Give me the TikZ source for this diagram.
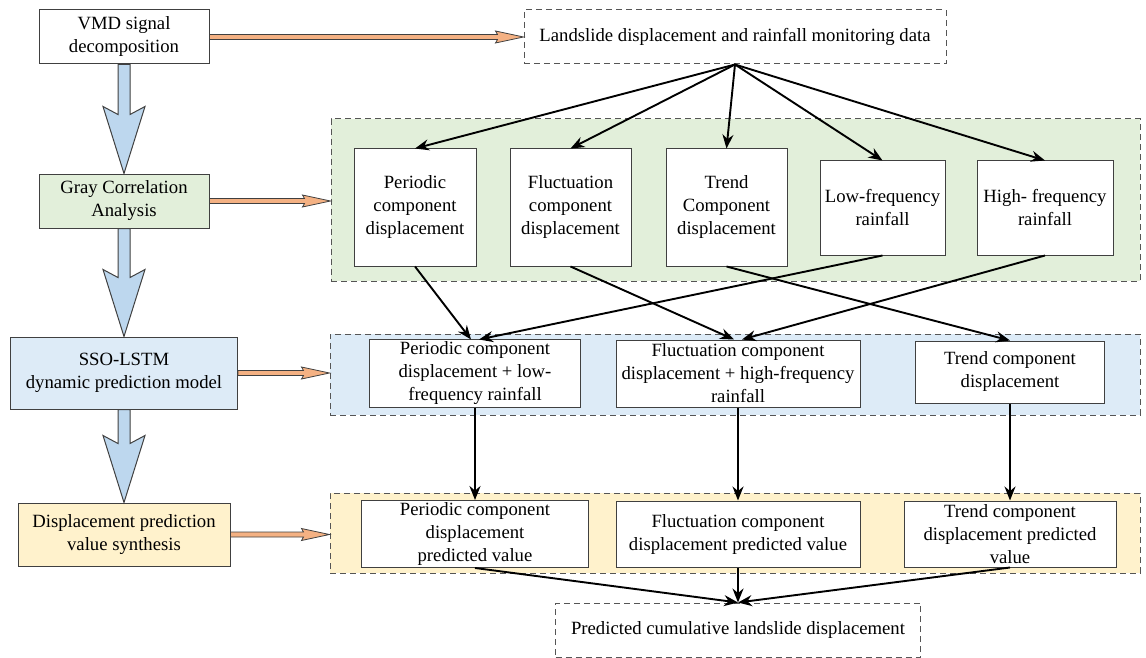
\documentclass[tikz,border=0pt]{standalone}
\usepackage{fontspec}
\setmainfont{Liberation Serif}
\usetikzlibrary{arrows.meta,calc}
\definecolor{gfill}{HTML}{E2EFDA}
\definecolor{bfill}{HTML}{DDEBF7}
\definecolor{yfill}{HTML}{FFF2CC}
\definecolor{barrow}{HTML}{BDD7EE}
\definecolor{oarrow}{HTML}{F4B183}
\definecolor{boxline}{HTML}{404040}
\definecolor{dashline}{HTML}{555555}
\newcommand\bigblue[2]{%
  \draw[bigarr] ($(#1.south)+(-6,0)$) -- ($(#2.north)+(-6,-59)$) -- ($(#2.north)+(-21,-67)$) -- (#2.north)
    -- ($(#2.north)+(21,-67)$) -- ($(#2.north)+(6,-59)$) -- ($(#1.south)+(6,0)$) -- cycle;}
\newcommand\orangearr[2]{%
  \draw[orarr] ($(#1.east)+(0,-2.5)$) -- ($(#1.east -| #2.west)+(-26,-2.5)$) -- ($(#1.east -| #2.west)+(-28,-6)$)
    -- (#1.east -| #2.west) -- ($(#1.east -| #2.west)+(-28,6)$) -- ($(#1.east -| #2.west)+(-26,2.5)$)
    -- ($(#1.east)+(0,2.5)$) -- cycle;}
\begin{document}
\begin{tikzpicture}[x=1pt,y=-1pt,
  every node/.style={font=\fontsize{18.7}{23}\selectfont, align=center, inner sep=2pt},
  bx/.style={draw=boxline, line width=1pt, fill=white},
  region/.style={draw=dashline, line width=1pt, dash pattern=on 6pt off 4pt},
  conn/.style={line width=1.9pt, -{Stealth[length=14pt,width=11pt]}},
  bigarr/.style={draw=boxline, line width=1pt, fill=barrow},
  orarr/.style={draw=boxline, line width=0.8pt, fill=oarrow}]
\useasboundingbox (0,0) rectangle (1146,658);
% regions
\node[region, fill=gfill, minimum width=809pt, minimum height=162pt] (greg) at (735.5,200) {};
\node[region, fill=bfill, minimum width=810pt, minimum height=81pt] (breg) at (735,374.5) {};
\node[region, fill=yfill, minimum width=810pt, minimum height=80pt] (yreg) at (735,533) {};
% left column
\node[bx, minimum width=170pt, minimum height=54pt] (vmd) at (124,37) {VMD signal\\decomposition};
\node[bx, fill=gfill, minimum width=170pt, minimum height=54pt] (gray) at (124,201) {Gray Correlation\\Analysis};
\node[bx, fill=bfill, minimum width=227pt, minimum height=72pt] (sso) at (124,373) {SSO-LSTM\\dynamic prediction model};
\node[bx, fill=yfill, minimum width=212pt, minimum height=63pt] (disp) at (124,534.5) {Displacement prediction\\value synthesis};
% top data
\node[region, fill=white, minimum width=422pt, minimum height=54pt] (land) at (735,37) {Landslide displacement and rainfall monitoring data};
% green row
\node[bx, minimum width=122pt, minimum height=117pt] (g1) at (415,207.5) {Periodic\\component\\displacement};
\node[bx, minimum width=121pt, minimum height=117pt] (g2) at (570.5,207.5) {Fluctuation\\component\\displacement};
\node[bx, minimum width=121pt, minimum height=117pt] (g3) at (726.5,207.5) {Trend\\Component\\displacement};
\node[bx, minimum width=125pt, minimum height=94pt] (g4) at (882.5,208) {Low-frequency\\rainfall};
\node[bx, minimum width=136pt, minimum height=94pt] (g5) at (1045,208) {High- frequency\\rainfall};
% blue row
\node[bx, minimum width=211pt, minimum height=67pt] (b1) at (475,373.5) {Periodic component\\displacement + low-\\frequency rainfall};
\node[bx, minimum width=244pt, minimum height=67pt] (b2) at (738,373.5) {Fluctuation component\\displacement + high-frequency\\rainfall};
\node[bx, minimum width=189pt, minimum height=62pt] (b3) at (1010,372) {Trend component\\displacement};
% yellow row
\node[bx, minimum width=227pt, minimum height=66pt] (y1) at (475,534) {Periodic component\\displacement\\predicted value};
\node[bx, minimum width=244pt, minimum height=66pt] (y2) at (738,534) {Fluctuation component\\displacement predicted value};
\node[bx, minimum width=212pt, minimum height=66pt] (y3) at (1010,534) {Trend component\\displacement predicted\\value};
% final
\node[region, fill=white, minimum width=365pt, minimum height=54pt] (final) at (738,630) {Predicted cumulative landslide displacement};
% big blue arrows
\bigblue{vmd}{gray}
\bigblue{gray}{sso}
\bigblue{sso}{disp}
% orange arrows
\orangearr{vmd}{land}
\orangearr{gray}{greg}
\orangearr{sso}{breg}
\orangearr{disp}{yreg}
% connectors
\foreach \t in {g1,g2,g3,g4,g5} \draw[conn] (land.south) -- (\t.north);
\draw[conn] (g1.south) -- ($(b1.north)+(-4,0)$);
\draw[conn] (g4.south) -- ($(b1.north)+(4,0)$);
\draw[conn] (g2.south) -- ($(b2.north)+(-4,0)$);
\draw[conn] (g5.south) -- ($(b2.north)+(4,0)$);
\draw[conn] (g3.south) -- (b3.north);
\draw[conn] (b1.south) -- (y1.north);
\draw[conn] (b2.south) -- (y2.north);
\draw[conn] (b3.south) -- (b3.south |- y3.north);
\foreach \t in {y1,y2,y3} \draw[conn] (\t.south) -- (final.north);
\end{tikzpicture}
\end{document}
